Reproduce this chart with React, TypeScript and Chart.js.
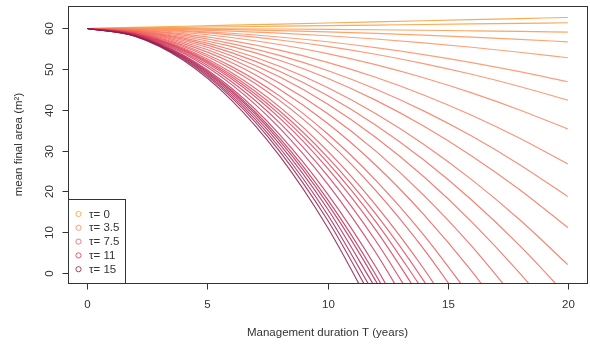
import React, { useEffect, useRef } from "react";
import { Chart, registerables } from "chart.js";

Chart.register(...registerables);

// Management duration T (years) at which the mean final area was read
const T_YEARS = [0, 2, 4, 6, 8, 10, 12, 14, 16, 18, 20];

// tau values, one line each
const TAU = [0, 0.5, 1, 1.5, 2, 2.5, 3, 3.5, 4, 4.5, 5, 5.5, 6, 6.5, 7, 7.5, 8, 8.5, 9, 9.5, 10, 10.5, 11, 11.5, 12, 12.5, 13, 13.5, 14, 14.5, 15];

// mean final area (m²) for each tau, read at T_YEARS (rows stop once below the axis)
const MEAN_AREA: number[][] = [
  [60, 60.27, 60.54, 60.81, 61.08, 61.35, 61.62, 61.89, 62.16, 62.43, 62.7],
  [60, 60.14, 60.28, 60.42, 60.56, 60.7, 60.84, 60.98, 61.12, 61.26, 61.4],
  [60, 59.99, 59.96, 59.92, 59.86, 59.78, 59.68, 59.56, 59.42, 59.27, 59.1],
  [60, 59.97, 59.87, 59.7, 59.47, 59.18, 58.81, 58.38, 57.89, 57.33, 56.7],
  [60, 59.93, 59.71, 59.35, 58.85, 58.2, 57.41, 56.47, 55.39, 54.17, 52.8],
  [60, 59.87, 59.48, 58.82, 57.9, 56.73, 55.28, 53.58, 51.62, 49.39, 46.9],
  [60, 59.82, 59.3, 58.42, 57.18, 55.6, 53.66, 51.38, 48.74, 45.74, 42.4],
  [60, 59.75, 59.01, 57.78, 56.05, 53.83, 51.11, 47.9, 44.19, 39.99, 35.3],
  [60, 59.67, 58.67, 57.0, 54.67, 51.68, 48.01, 43.68, 38.69, 33.03, 26.7],
  [60, 59.59, 58.35, 56.28, 53.39, 49.68, 45.13, 39.76, 33.57, 26.55, 18.7],
  [60, 59.51, 58.04, 55.6, 52.18, 47.78, 42.4, 36.04, 28.7, 20.39, 11.1],
  [60, 59.42, 57.68, 54.78, 50.72, 45.5, 39.12, 31.58, 22.88, 13.02, 2.0],
  [60, 59.34, 57.37, 54.07, 49.47, 43.54, 36.3, 27.74, 17.86, 6.67, -5.84],
  [60, 59.26, 57.03, 53.32, 48.13, 41.45, 33.29, 23.64, 12.51, -0.1, -14.2],
  [60, 59.16, 56.66, 52.48, 46.63, 39.11, 29.92, 19.06, 6.52, -7.68],
  [60, 59.07, 56.27, 51.62, 45.09, 36.71, 26.46, 14.35, 0.38, -15.46],
  [60, 58.97, 55.86, 50.69, 43.45, 34.14, 22.76, 9.31, -6.2],
  [60, 58.9, 55.58, 50.06, 42.33, 32.39, 20.24, 5.88, -10.68],
  [60, 58.8, 55.19, 49.17, 40.75, 29.92, 16.68, 1.04, -17.0],
  [60, 58.74, 54.95, 48.63, 39.78, 28.41, 14.51, -1.92, -20.87],
  [60, 58.68, 54.74, 48.16, 38.95, 27.11, 12.64, -4.46],
  [60, 58.63, 54.51, 47.65, 38.04, 25.69, 10.59, -7.25],
  [60, 58.55, 54.21, 46.98, 36.86, 23.84, 7.93, -10.87],
  [60, 58.47, 53.89, 46.26, 35.57, 21.83, 5.04, -14.81],
  [60, 58.38, 53.5, 45.38, 34.01, 19.39, 1.52, -19.6],
  [60, 58.32, 53.28, 44.89, 33.14, 18.03, -0.44, -22.26],
  [60, 58.28, 53.12, 44.52, 32.47, 16.99, -1.93, -24.3],
  [60, 58.23, 52.91, 44.06, 31.65, 15.71, -3.78],
  [60, 58.17, 52.69, 43.55, 30.76, 14.31, -5.79],
  [60, 58.12, 52.47, 43.06, 29.88, 12.94, -7.77],
  [60, 58.05, 52.19, 42.42, 28.75, 11.17, -10.32],
];

const X_TICKS = [0, 5, 10, 15, 20];
const Y_TICKS = [0, 10, 20, 30, 40, 50, 60];
const LEGEND_TAU = [0, 3.5, 7.5, 11, 15];

const X_TITLE = "Management duration T (years)";
const Y_TITLE = "mean final area (m²)";

const FONT = '"Liberation Sans", Arial, Helvetica, sans-serif';
const INK = "#333333";

const STOPS: [number, number[]][] = [
  [0, [246, 158, 50]],
  [0.15, [250, 145, 100]],
  [0.4, [243, 108, 92]],
  [0.55, [236, 88, 92]],
  [0.72, [212, 58, 90]],
  [0.88, [178, 40, 85]],
  [1, [140, 28, 78]],
];

function rampColor(t: number, alpha: number): string {
  for (let k = 0; k < STOPS.length - 1; k++) {
    const [t0, c0] = STOPS[k];
    const [t1, c1] = STOPS[k + 1];
    if (t >= t0 && t <= t1) {
      const f = (t - t0) / (t1 - t0);
      const c = c0.map((v, j) => Math.round(v + (c1[j] - v) * f));
      return `rgba(${c[0]},${c[1]},${c[2]},${alpha})`;
    }
  }
  const c = STOPS[STOPS.length - 1][1];
  return `rgba(${c[0]},${c[1]},${c[2]},${alpha})`;
}

function colorForTau(tau: number, alpha = 0.85): string {
  const tMax = TAU[TAU.length - 1];
  return rampColor(tau / tMax, alpha);
}

const rPlotPlugin = {
  id: "rPlot",
  afterDraw(chart: any) {
    const ctx = chart.ctx as CanvasRenderingContext2D;
    const { left, right, top, bottom } = chart.chartArea;
    const xs = chart.scales.x;
    const ys = chart.scales.y;
    ctx.save();
    ctx.strokeStyle = INK;
    ctx.lineWidth = 1;
    // box
    ctx.strokeRect(Math.round(left) + 0.5, Math.round(top) + 0.5, Math.round(right - left), Math.round(bottom - top));

    ctx.fillStyle = INK;
    ctx.font = `11.5px ${FONT}`;
    // x ticks
    ctx.textAlign = "center";
    ctx.textBaseline = "middle";
    for (const v of X_TICKS) {
      const px = Math.round(xs.getPixelForValue(v)) + 0.5;
      ctx.beginPath();
      ctx.moveTo(px, Math.round(bottom) + 0.5);
      ctx.lineTo(px, Math.round(bottom) + 6.5);
      ctx.stroke();
      ctx.fillText(String(v), px, 305);
    }
    // y ticks
    for (const v of Y_TICKS) {
      const py = Math.round(ys.getPixelForValue(v)) + 0.5;
      ctx.beginPath();
      ctx.moveTo(Math.round(left) + 0.5, py);
      ctx.lineTo(Math.round(left) - 5.5, py);
      ctx.stroke();
      ctx.save();
      ctx.translate(50, py);
      ctx.rotate(-Math.PI / 2);
      ctx.fillText(String(v), 0, 0);
      ctx.restore();
    }
    // titles
    ctx.fillText(X_TITLE, (left + right) / 2, 333);
    ctx.save();
    ctx.translate(19, (top + bottom) / 2);
    ctx.rotate(-Math.PI / 2);
    ctx.fillText(Y_TITLE, 0, 0);
    ctx.restore();

    // legend
    const lx = Math.round(left) + 0.5;
    const ly = 199.5;
    const lw = 57;
    const lh = Math.round(bottom) + 0.5 - ly;
    ctx.fillStyle = "#ffffff";
    ctx.fillRect(lx, ly, lw, lh);
    ctx.strokeStyle = INK;
    ctx.strokeRect(lx, ly, lw, lh);
    ctx.textAlign = "left";
    ctx.textBaseline = "middle";
    LEGEND_TAU.forEach((tau, i) => {
      const cy = 214 + i * 13.8;
      ctx.beginPath();
      ctx.strokeStyle = colorForTau(tau, 0.8);
      ctx.lineWidth = 1;
      ctx.arc(78.5, cy, 2.6, 0, Math.PI * 2);
      ctx.stroke();
      ctx.fillStyle = INK;
      ctx.fillText(`τ= ${tau}`, 89, cy + 0.5);
    });
    ctx.restore();
  },
};

export default function App() {
  const canvasRef = useRef<HTMLCanvasElement | null>(null);

  useEffect(() => {
    document.body.style.margin = "0";
    const canvas = canvasRef.current;
    if (!canvas) return;

    const datasets = TAU.map((tau, i) => ({
      label: `τ= ${tau}`,
      data: MEAN_AREA[i].map((v, j) => ({ x: T_YEARS[j], y: v })),
      borderColor: colorForTau(tau),
      borderWidth: 1.15,
      pointRadius: 0,
      fill: false,
      cubicInterpolationMode: "monotone" as const,
      order: TAU.length - i,
    }));

    const chart = new Chart(canvas, {
      type: "line",
      data: { datasets },
      options: {
        animation: false,
        responsive: false,
        devicePixelRatio: 1,
        layout: { padding: { left: 68, top: 6, right: 3, bottom: 62 } },
        plugins: { legend: { display: false }, tooltip: { enabled: false } },
        events: [],
        scales: {
          x: { type: "linear", min: -0.8, max: 20.8, display: false },
          y: { type: "linear", min: -2.52, max: 65.52, display: false },
        },
      },
      plugins: [rPlotPlugin],
    });
    return () => chart.destroy();
  }, []);

  return (
    <div style={{ position: "fixed", left: 0, top: 0, width: 590, height: 345, background: "#fff" }}>
      <canvas ref={canvasRef} width={590} height={345} style={{ width: 590, height: 345, display: "block" }} />
    </div>
  );
}
